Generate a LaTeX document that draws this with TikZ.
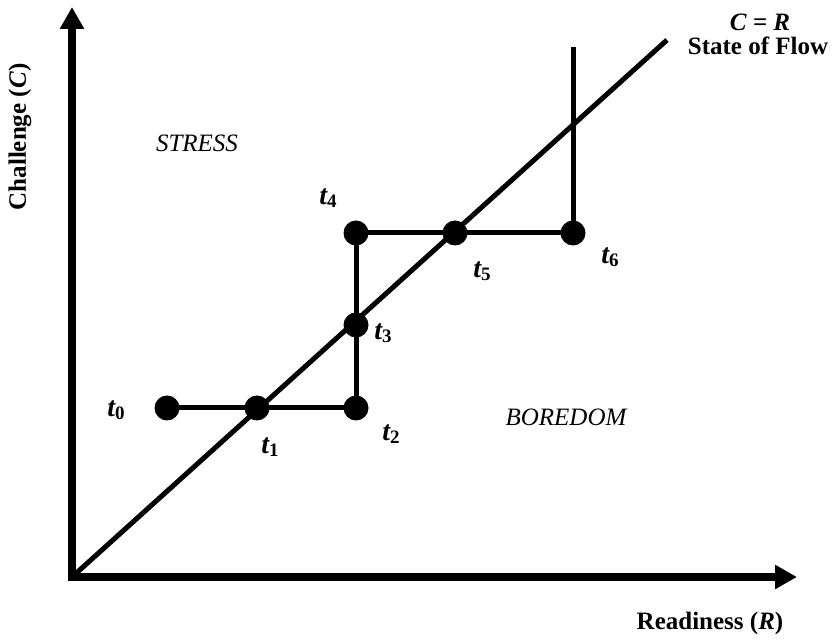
\documentclass[tikz,border=0pt]{standalone}
\usepackage{fontspec}
\setmainfont{Liberation Serif}
\usetikzlibrary{arrows.meta}
\begin{document}
\begin{tikzpicture}[x=1pt,y=1pt,
  axis/.style={line width=7.5pt,-{Triangle[width=23pt,length=22pt]}},
  seg/.style={line width=5pt},
  dot/.style={circle,fill=black,inner sep=0pt,minimum size=25pt},
  lab/.style={font=\fontsize{25}{30}\selectfont\bfseries,inner sep=0pt},
  region/.style={font=\fontsize{25}{30}\selectfont\itshape,inner sep=0pt},
  tlab/.style={inner sep=0pt}]
\useasboundingbox (0,0) rectangle (833,640);
\newcommand{\tl}[1]{{\fontsize{28}{32}\selectfont\bfseries\itshape t}\raisebox{-0.3em}{\fontsize{19}{22}\selectfont\bfseries #1}}
% axes
\coordinate (O) at (72,63);
\coordinate (Ybot) at (72,59.25);
\coordinate (Xbot) at (68.25,63);
\coordinate (Ytip) at (72,633);
\coordinate (Xtip) at (797,63);
\draw[axis] (Ybot) -- (Ytip);
\draw[axis] (Xbot) -- (Xtip);
% diagonal
\coordinate (F) at (667,600);
\draw[seg] (O) -- (F);
% dots
\node[dot] (t0) at (167,232) {};
\node[dot] (t1) at (257,232) {};
\node[dot] (t2) at (356,232) {};
\node[dot] (t3) at (356,315) {};
\node[dot] (t4) at (356,407) {};
\node[dot] (t5) at (455,407) {};
\node[dot] (t6) at (573,407) {};
\coordinate (top) at (573,593);
\draw[seg] (t0.center) -- (t1.center) -- (t2.center) -- (t3.center) -- (t4.center) -- (t5.center) -- (t6.center) -- (top);
% time labels
\node[tlab] (l0) at (116,230) {\tl{0}};
\node[tlab] (l1) at (270,193) {\tl{1}};
\node[tlab] (l2) at (391,206) {\tl{2}};
\node[tlab] (l3) at (383,307) {\tl{3}};
\node[tlab] (l4) at (328,442) {\tl{4}};
\node[tlab] (l5) at (482,369) {\tl{5}};
\node[tlab] (l6) at (610,383) {\tl{6}};
% region labels
\node[region] (stress) at (197,497) {STRESS};
\node[region] (boredom) at (566,223) {BOREDOM};
% axis labels
\node[lab] (cr) at (760,618) {\textit{C} = \textit{R}};
\node[lab] (flow) at (758,594) {State of Flow};
\node[lab] (xl) at (710,17) {Readiness (\textit{R})};
\node[lab,rotate=90] (yl) at (20,503) {Challenge (\textit{C})};
\end{tikzpicture}
\end{document}
